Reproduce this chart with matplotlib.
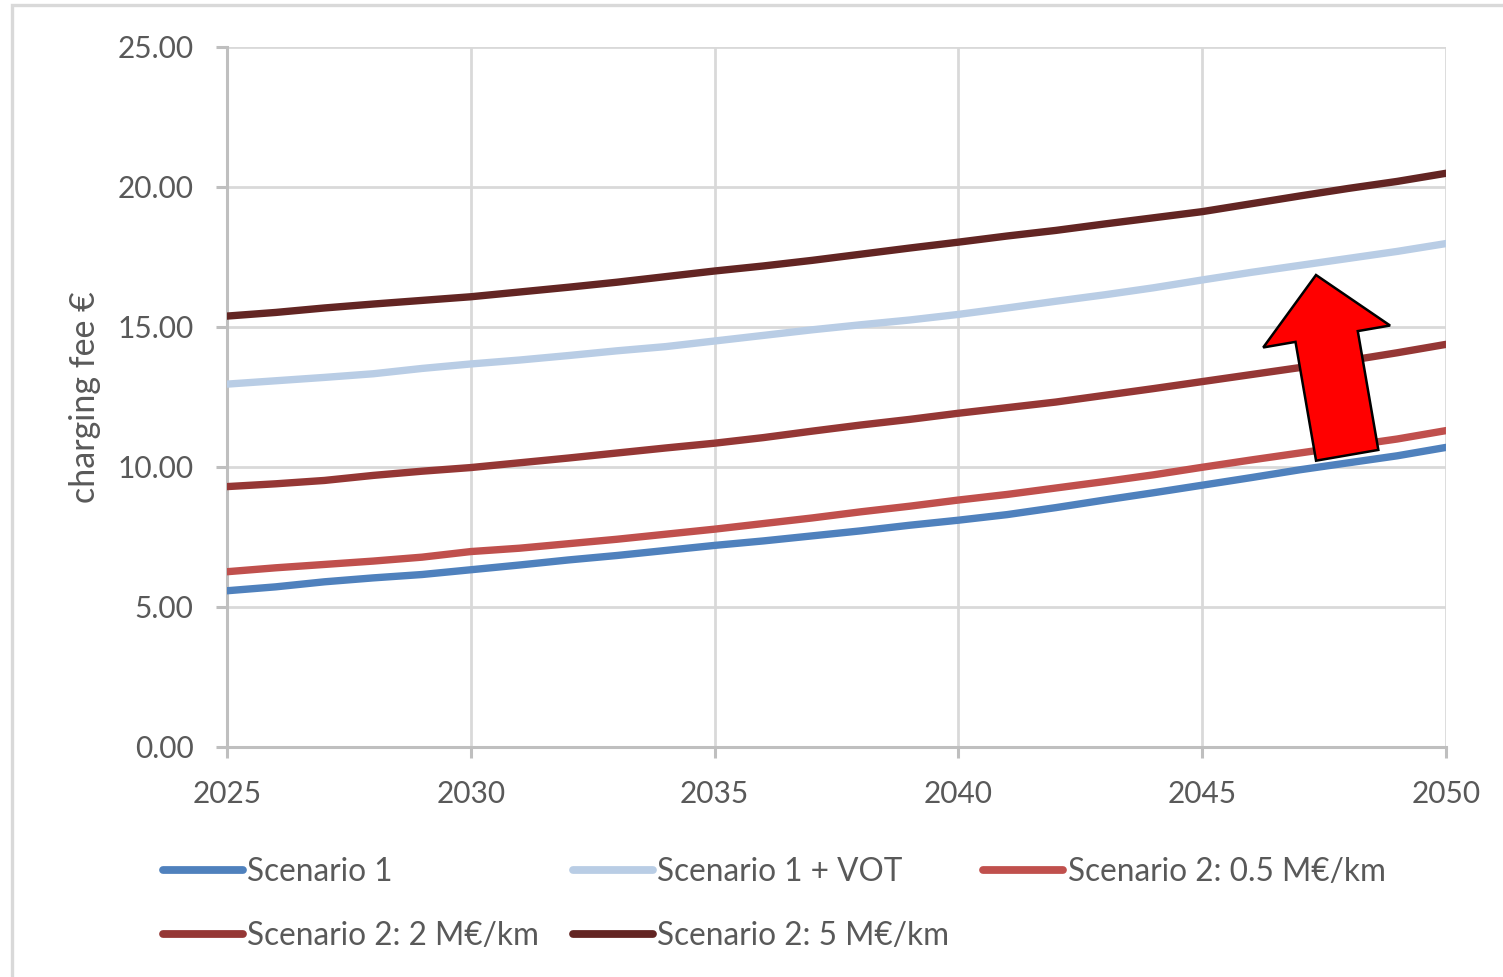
import matplotlib
matplotlib.use("Agg")
import matplotlib.pyplot as plt
from matplotlib.patches import FancyArrow, Rectangle
from matplotlib.lines import Line2D
from matplotlib.ticker import FormatStrFormatter

plt.rcParams['font.family'] = ['Lato', 'DejaVu Sans']

# --- data -------------------------------------------------------------
years = list(range(2025, 2051))

scenario_1 = [5.58, 5.72, 5.90, 6.04, 6.16, 6.33, 6.50, 6.68, 6.84, 7.02,
              7.20, 7.36, 7.54, 7.72, 7.92, 8.10, 8.30, 8.55, 8.82, 9.08,
              9.35, 9.62, 9.90, 10.15, 10.40, 10.70]
scenario_1_vot = [12.96, 13.08, 13.20, 13.33, 13.52, 13.68, 13.82, 13.98, 14.15, 14.30,
                  14.50, 14.70, 14.90, 15.08, 15.25, 15.45, 15.68, 15.92, 16.15, 16.40,
                  16.68, 16.95, 17.20, 17.45, 17.70, 17.98]
scenario_2_05 = [6.26, 6.40, 6.52, 6.64, 6.78, 6.98, 7.10, 7.26, 7.42, 7.60,
                 7.78, 7.98, 8.18, 8.40, 8.60, 8.82, 9.02, 9.25, 9.48, 9.72,
                 9.99, 10.25, 10.50, 10.75, 11.00, 11.30]
scenario_2_2 = [9.30, 9.40, 9.52, 9.70, 9.85, 9.98, 10.15, 10.32, 10.50, 10.68,
                10.85, 11.05, 11.28, 11.50, 11.70, 11.92, 12.12, 12.32, 12.56, 12.80,
                13.05, 13.30, 13.55, 13.80, 14.08, 14.38]
scenario_2_5 = [15.39, 15.52, 15.68, 15.82, 15.95, 16.08, 16.25, 16.42, 16.60, 16.80,
                17.00, 17.18, 17.38, 17.60, 17.82, 18.03, 18.25, 18.45, 18.68, 18.90,
                19.12, 19.40, 19.68, 19.95, 20.20, 20.49]

series_labels = ["Scenario 1", "Scenario 1 + VOT", "Scenario 2: 0.5 M€/km",
                 "Scenario 2: 2 M€/km", "Scenario 2: 5 M€/km"]
series_values = [scenario_1, scenario_1_vot, scenario_2_05, scenario_2_2, scenario_2_5]
series_colors = ["#4F81BD", "#B9CDE5", "#C0504D", "#953735", "#632523"]

x_ticks = [2025, 2030, 2035, 2040, 2045, 2050]
y_ticks = [0, 5, 10, 15, 20, 25]

# --- figure -----------------------------------------------------------
W, H = 1503, 977
fig = plt.figure(figsize=(W / 100, H / 100), dpi=100)
ax = fig.add_axes([227 / W, 1 - 747 / H, (1446 - 227) / W, (747 - 47) / H])

text_color = "#595959"
fs = 21.5
fs_leg = 22.7
fs_lab = 24.5

for vals, lab, col in zip(series_values, series_labels, series_colors):
    ax.plot(years, vals, color=col, lw=5.3, label=lab,
            solid_capstyle="round", solid_joinstyle="round", zorder=3)

ax.set_xlim(2025, 2050)
ax.set_ylim(0, 25)
ax.set_xticks(x_ticks)
ax.set_yticks(y_ticks)
ax.yaxis.set_major_formatter(FormatStrFormatter("%.2f"))

ax.grid(True, color="#d9d9d9", lw=2.0, zorder=0)
ax.set_axisbelow(True)
for s in ["top", "right"]:
    ax.spines[s].set_visible(False)
for s in ["left", "bottom"]:
    ax.spines[s].set_color("#bfbfbf")
    ax.spines[s].set_linewidth(2.2)

ax.tick_params(axis="both", colors="#bfbfbf", width=2.2, length=8,
               labelcolor=text_color, labelsize=fs)
ax.tick_params(axis="y", pad=16)
ax.tick_params(axis="x", pad=15.5)

ax.set_ylabel("charging fee €", fontsize=fs_lab, color=text_color)
ax.yaxis.set_label_coords(-0.103, 0.5)

# legend below the plot, filled row by row
handles = [Line2D([], [], color=c, lw=5.6, solid_capstyle="round") for c in series_colors]
order = [0, 3, 1, 4, 2]
leg = fig.legend([handles[i] for i in order], [series_labels[i] for i in order],
                 ncol=3, loc="upper left", bbox_to_anchor=(163 / W, 1 - 857 / H),
                 frameon=False, fontsize=fs_leg, handlelength=2.54, handletextpad=0.13,
                 columnspacing=1.08, labelspacing=1.08, borderaxespad=0, borderpad=0,
                 labelcolor=text_color)

# highlight arrow pointing upward
arrow = FancyArrow(13.472, 5.217, -0.312, 1.803, width=0.632, head_width=1.287,
                   head_length=0.624, length_includes_head=True,
                   transform=fig.dpi_scale_trans, facecolor="#FF0000",
                   edgecolor="black", lw=1.8, zorder=10)
fig.add_artist(arrow)

# chart area border
border = Rectangle((12 / W, -0.05), 1.2, 1 - 5 / H + 0.05, transform=fig.transFigure,
                   fill=False, edgecolor="#d9d9d9", lw=2.4)
fig.add_artist(border)

fig.savefig("out.png", dpi=100)
